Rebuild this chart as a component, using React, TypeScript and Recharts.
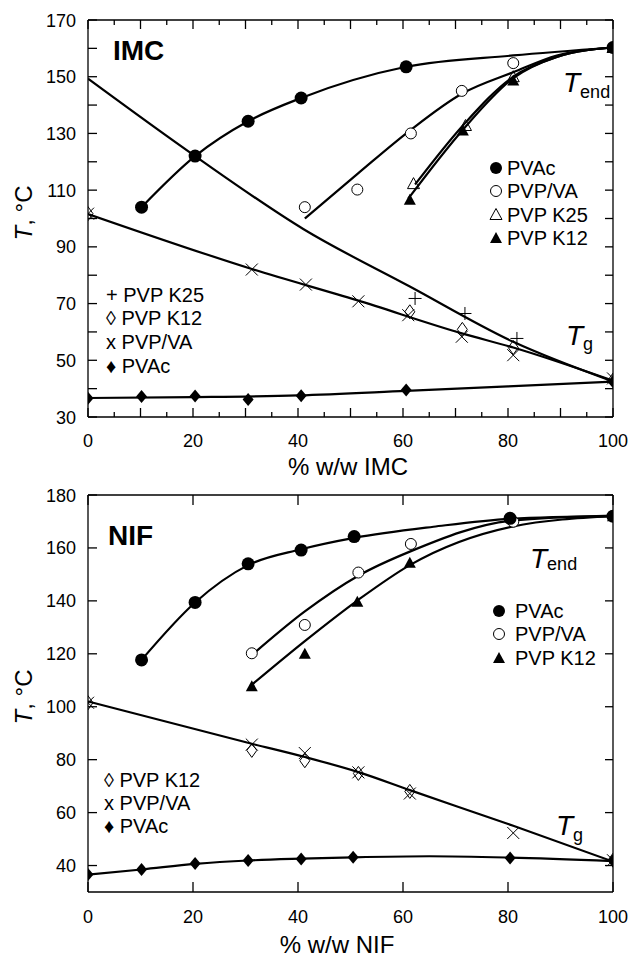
import {
  ComposedChart,
  Line,
  ReferenceLine,
  Scatter,
  XAxis,
  YAxis,
} from "recharts";

type P = { x: number; y: number };

const FONT = '"Liberation Sans", Arial, Helvetica, sans-serif';

// ---- IMC panel: symbols ----
const imcEndPvac: P[] = [
  { x: 10.2, y: 104 }, { x: 20.4, y: 122 }, { x: 30.5, y: 134.3 },
  { x: 40.6, y: 142.5 }, { x: 60.6, y: 153.5 }, { x: 100, y: 160.3 },
];
const imcEndPvpva: P[] = [
  { x: 41.3, y: 104 }, { x: 51.3, y: 110.2 }, { x: 61.5, y: 130 },
  { x: 71.2, y: 145 }, { x: 81, y: 154.8 }, { x: 100, y: 160.3 },
];
const imcEndK25: P[] = [
  { x: 62, y: 112.3 }, { x: 71.9, y: 132.8 }, { x: 81, y: 150 }, { x: 100, y: 160.3 },
];
const imcEndK12: P[] = [
  { x: 61.3, y: 106.6 }, { x: 71.4, y: 131 }, { x: 81, y: 148.7 }, { x: 100, y: 160.3 },
];
const imcTgK25: P[] = [
  { x: 62.3, y: 71.8 }, { x: 71.8, y: 66.5 }, { x: 81.7, y: 57.7 }, { x: 100, y: 43 },
];
const imcTgK12: P[] = [
  { x: 0, y: 101.7 }, { x: 61.3, y: 67.1 }, { x: 71.3, y: 60.9 }, { x: 81, y: 54.5 }, { x: 100, y: 43 },
];
const imcTgPvpva: P[] = [
  { x: 0, y: 101.7 }, { x: 31.2, y: 82 }, { x: 41.5, y: 76.7 }, { x: 51.5, y: 70.8 },
  { x: 61, y: 65.9 }, { x: 71.2, y: 58.3 }, { x: 81, y: 51.8 }, { x: 100, y: 43.6 },
];
const imcTgPvac: P[] = [
  { x: 0, y: 36.6 }, { x: 10.2, y: 37.2 }, { x: 20.4, y: 37.4 }, { x: 30.5, y: 36.2 },
  { x: 40.6, y: 37.5 }, { x: 60.6, y: 39.5 }, { x: 100, y: 42.4 },
];

// ---- IMC panel: fitted curves as drawn ----
const imcFitEndPvac: P[] = [
  { x: 10.2, y: 104 }, { x: 20.4, y: 122 }, { x: 30.5, y: 134.3 }, { x: 40.6, y: 142.5 },
  { x: 60.6, y: 153.5 }, { x: 81, y: 157.5 }, { x: 100, y: 160.3 },
];
const imcFitEndPvpva: P[] = [
  { x: 41.3, y: 100 }, { x: 51.5, y: 116 }, { x: 61.3, y: 131 }, { x: 71.2, y: 144 },
  { x: 81, y: 151.6 }, { x: 89.3, y: 157.5 }, { x: 100, y: 160.3 },
];
const imcFitEndK25: P[] = [
  { x: 62.3, y: 112 }, { x: 71.5, y: 133 }, { x: 81, y: 150 }, { x: 89.3, y: 157 }, { x: 100, y: 160.3 },
];
const imcFitEndK12: P[] = [
  { x: 61, y: 107 }, { x: 71.5, y: 131.5 }, { x: 81, y: 149.5 }, { x: 89.3, y: 157 }, { x: 100, y: 160.3 },
];
const imcFitTgK25: P[] = [
  { x: 0, y: 149.3 }, { x: 20.4, y: 122 }, { x: 41, y: 96.3 }, { x: 61.3, y: 76 },
  { x: 81, y: 56.5 }, { x: 100, y: 42.5 },
];
const imcFitTgPvpva: P[] = [
  { x: 0, y: 101.6 }, { x: 31.2, y: 82.2 }, { x: 51.2, y: 71.2 }, { x: 71.2, y: 59.5 },
  { x: 81, y: 54.5 }, { x: 100, y: 42.8 },
];
const imcFitTgPvac: P[] = [
  { x: 0, y: 36.7 }, { x: 20, y: 37 }, { x: 40, y: 37.6 }, { x: 60.6, y: 39.2 },
  { x: 80, y: 40.8 }, { x: 100, y: 42.5 },
];

// ---- NIF panel: symbols ----
const nifEndPvac: P[] = [
  { x: 10.2, y: 117.7 }, { x: 20.4, y: 139.4 }, { x: 30.5, y: 154 }, { x: 40.6, y: 159.2 },
  { x: 50.7, y: 164.3 }, { x: 80.4, y: 171.2 }, { x: 100, y: 172 },
];
const nifEndPvpva: P[] = [
  { x: 31.2, y: 120.2 }, { x: 41.3, y: 130.9 }, { x: 51.5, y: 150.7 }, { x: 61.5, y: 161.5 },
  { x: 81, y: 169.9 }, { x: 100, y: 172 },
];
const nifEndK12: P[] = [
  { x: 31.2, y: 107.7 }, { x: 41.3, y: 120 }, { x: 51.3, y: 139.7 }, { x: 61.3, y: 154.4 }, { x: 100, y: 172 },
];
const nifTgK12: P[] = [
  { x: 0, y: 101.5 }, { x: 31.2, y: 83.5 }, { x: 41.3, y: 79.6 }, { x: 51.5, y: 74.8 },
  { x: 61.3, y: 68 }, { x: 100, y: 42 },
];
const nifTgPvpva: P[] = [
  { x: 0, y: 101.5 }, { x: 31.2, y: 85.7 }, { x: 41.3, y: 82.5 }, { x: 51.5, y: 75.2 },
  { x: 61.3, y: 67.2 }, { x: 81, y: 52.3 }, { x: 100, y: 42 },
];
const nifTgPvac: P[] = [
  { x: 0, y: 36.6 }, { x: 10.2, y: 38.5 }, { x: 20.4, y: 40.8 }, { x: 30.5, y: 41.9 },
  { x: 40.6, y: 42.5 }, { x: 50.5, y: 43.1 }, { x: 80.4, y: 42.8 }, { x: 100, y: 41.9 },
];

// ---- NIF panel: fitted curves as drawn ----
const nifFitEndPvac: P[] = [
  { x: 10.2, y: 117.7 }, { x: 20.4, y: 139.4 }, { x: 30.5, y: 153.5 }, { x: 40.6, y: 159.5 },
  { x: 50.7, y: 163.8 }, { x: 65.8, y: 168 }, { x: 80.4, y: 171 }, { x: 100, y: 172 },
];
const nifFitEndPvpva: P[] = [
  { x: 31.2, y: 119.5 }, { x: 41.3, y: 136 }, { x: 51.5, y: 149.5 }, { x: 61.3, y: 158.6 },
  { x: 80.7, y: 170.3 }, { x: 100, y: 172.2 },
];
const nifFitEndK12: P[] = [
  { x: 31.2, y: 108.3 }, { x: 41.3, y: 124.8 }, { x: 51.5, y: 140.4 }, { x: 61.3, y: 153.5 },
  { x: 80.7, y: 168 }, { x: 100, y: 172 },
];
const nifFitTg: P[] = [
  { x: 0, y: 102 }, { x: 31.2, y: 86 }, { x: 41.3, y: 81 }, { x: 51.5, y: 75.3 },
  { x: 61.3, y: 68.5 }, { x: 81, y: 55 }, { x: 100, y: 41.5 },
];
const nifFitTgPvac: P[] = [
  { x: 0, y: 36.6 }, { x: 10.2, y: 38.5 }, { x: 20.4, y: 40.6 }, { x: 30.5, y: 41.9 },
  { x: 40.6, y: 42.6 }, { x: 50.5, y: 43.1 }, { x: 65, y: 43.5 }, { x: 80.4, y: 43 }, { x: 100, y: 41.7 },
];

// ticks
const imcXTicks = [0, 5, 10, 15, 20, 25, 30, 35, 40, 45, 50, 55, 60, 65, 70, 75, 80, 85, 90, 95, 100];
const imcYTicks = [30, 40, 50, 60, 70, 80, 90, 100, 110, 120, 130, 140, 150, 160, 170];
const nifXTicks = [0, 20, 40, 60, 80, 100];
const nifYTicks = [40, 60, 80, 100, 120, 140, 160, 180];

const PLOT_L = 88;
const PLOT_R = 613;

const mark = (kind: string) => (p: any) => {
  const { cx, cy } = p;
  if (cx == null || cy == null) return <g />;
  switch (kind) {
    case "dot":
      return <circle cx={cx} cy={cy} r={6.5} fill="#000" />;
    case "ring":
      return <circle cx={cx} cy={cy} r={5.5} fill="#fff" stroke="#000" strokeWidth={1} />;
    case "tri":
      return (
        <polygon
          points={`${cx},${cy - 6} ${cx + 6},${cy + 5} ${cx - 6},${cy + 5}`}
          fill="none"
          stroke="#000"
          strokeWidth={1}
        />
      );
    case "triFill":
      return <polygon points={`${cx},${cy - 6} ${cx + 6},${cy + 5} ${cx - 6},${cy + 5}`} fill="#000" />;
    case "plus":
      return (
        <path
          d={`M${cx - 6.5},${cy}H${cx + 6.5}M${cx},${cy - 6.5}V${cy + 6.5}`}
          stroke="#000"
          strokeWidth={1}
        />
      );
    case "cross":
      return (
        <path
          d={`M${cx - 6},${cy - 6}L${cx + 6},${cy + 6}M${cx + 6},${cy - 6}L${cx - 6},${cy + 6}`}
          stroke="#000"
          strokeWidth={1}
        />
      );
    case "lozenge":
      return (
        <polygon
          points={`${cx},${cy - 7} ${cx + 5},${cy} ${cx},${cy + 7} ${cx - 5},${cy}`}
          fill="none"
          stroke="#000"
          strokeWidth={1}
        />
      );
    default:
      return (
        <polygon
          points={`${cx},${cy - 6.5} ${cx + 5.5},${cy} ${cx},${cy + 6.5} ${cx - 5.5},${cy}`}
          fill="#000"
        />
      );
  }
};

const xTick =
  (top: number, bottom: number, labelY: number, showLabel: (v: number) => boolean, len: (v: number) => number) =>
  (p: any) => {
    const v = p.payload.value;
    const x = p.x;
    const l = len(v);
    return (
      <g>
        <line x1={x} x2={x} y1={bottom} y2={bottom - l} stroke="#000" strokeWidth={1.3} />
        <line x1={x} x2={x} y1={top} y2={top + l} stroke="#000" strokeWidth={1.3} />
        {showLabel(v) && (
          <text x={x} y={labelY} textAnchor="middle" fontSize={18} fontFamily={FONT} fill="#000">
            {v}
          </text>
        )}
      </g>
    );
  };

const yTick = (showLabel: (v: number) => boolean) => (p: any) => {
  const v = p.payload.value;
  const y = p.y;
  return (
    <g>
      <line x1={PLOT_L} x2={PLOT_L + 9} y1={y} y2={y} stroke="#000" strokeWidth={1.3} />
      <line x1={PLOT_R - 8} x2={PLOT_R} y1={y} y2={y} stroke="#000" strokeWidth={1.3} />
      {showLabel(v) && (
        <text x={76} y={y + 6.5} textAnchor="end" fontSize={18} fontFamily={FONT} fill="#000">
          {v}
        </text>
      )}
    </g>
  );
};

const curve = (data: P[], key: string) => (
  <Line
    key={key}
    data={data}
    dataKey="y"
    type="monotone"
    stroke="#000"
    strokeWidth={2.2}
    dot={false}
    activeDot={false}
    isAnimationActive={false}
  />
);

const dots = (data: P[], kind: string, key: string) => (
  <Scatter key={key} data={data} dataKey="y" shape={mark(kind)} isAnimationActive={false} />
);

const ImcChart = () => (
  <ComposedChart width={632} height={480} margin={{ top: 20, right: 19, bottom: 33, left: 28 }}>
    <XAxis
      type="number"
      dataKey="x"
      domain={[0, 100]}
      ticks={imcXTicks}
      interval={0}
      height={30}
      allowDataOverflow
      tickLine={false}
      axisLine={{ stroke: "#000", strokeWidth: 1.3 }}
      tick={xTick(20, 417, 447, (v) => v % 20 === 0, (v) => (v % 10 === 0 ? 9 : 5))}
    />
    <YAxis
      type="number"
      dataKey="y"
      domain={[30, 170]}
      ticks={imcYTicks}
      interval={0}
      width={60}
      allowDataOverflow
      tickLine={false}
      axisLine={{ stroke: "#000", strokeWidth: 1.3 }}
      tick={yTick((v) => (v - 30) % 20 === 0)}
    />
    <ReferenceLine y={170} stroke="#000" strokeWidth={1.3} />
    <ReferenceLine x={100} stroke="#000" strokeWidth={1.3} />
    {curve(imcFitTgPvac, "c1")}
    {curve(imcFitTgPvpva, "c2")}
    {curve(imcFitTgK25, "c3")}
    {curve(imcFitEndPvac, "c4")}
    {curve(imcFitEndPvpva, "c5")}
    {curve(imcFitEndK25, "c6")}
    {curve(imcFitEndK12, "c7")}
    {dots(imcTgK25, "plus", "s1")}
    {dots(imcTgK12, "lozenge", "s2")}
    {dots(imcTgPvpva, "cross", "s3")}
    {dots(imcTgPvac, "diamond", "s4")}
    {dots(imcEndPvpva, "ring", "s5")}
    {dots(imcEndK25, "tri", "s6")}
    {dots(imcEndK12, "triFill", "s7")}
    {dots(imcEndPvac, "dot", "s8")}
  </ComposedChart>
);

const NifChart = () => (
  <ComposedChart width={632} height={478} margin={{ top: 15, right: 19, bottom: 36, left: 28 }}>
    <XAxis
      type="number"
      dataKey="x"
      domain={[0, 100]}
      ticks={nifXTicks}
      interval={0}
      height={30}
      allowDataOverflow
      tickLine={false}
      axisLine={{ stroke: "#000", strokeWidth: 1.3 }}
      tick={xTick(15, 412, 442.7, () => true, () => 10)}
    />
    <YAxis
      type="number"
      dataKey="y"
      domain={[30, 180]}
      ticks={nifYTicks}
      interval={0}
      width={60}
      allowDataOverflow
      tickLine={false}
      axisLine={{ stroke: "#000", strokeWidth: 1.3 }}
      tick={yTick(() => true)}
    />
    <ReferenceLine y={180} stroke="#000" strokeWidth={1.3} />
    <ReferenceLine x={100} stroke="#000" strokeWidth={1.3} />
    {curve(nifFitTgPvac, "c1")}
    {curve(nifFitTg, "c2")}
    {curve(nifFitEndPvac, "c3")}
    {curve(nifFitEndPvpva, "c4")}
    {curve(nifFitEndK12, "c5")}
    {dots(nifTgK12, "lozenge", "s1")}
    {dots(nifTgPvpva, "cross", "s2")}
    {dots(nifTgPvac, "diamond", "s3")}
    {dots(nifEndPvpva, "ring", "s4")}
    {dots(nifEndK12, "triFill", "s5")}
    {dots(nifEndPvac, "dot", "s6")}
  </ComposedChart>
);

const legendSym = (kind: string, cx: number, cy: number, key: string) => (
  <g key={key}>
    {kind === "dot" && <circle cx={cx} cy={cy} r={6} fill="#000" />}
    {kind === "ring" && <circle cx={cx} cy={cy} r={5.5} fill="#fff" stroke="#000" />}
    {kind === "tri" && (
      <polygon points={`${cx},${cy - 6} ${cx + 6},${cy + 5} ${cx - 6},${cy + 5}`} fill="none" stroke="#000" />
    )}
    {kind === "triFill" && (
      <polygon points={`${cx},${cy - 6} ${cx + 6},${cy + 5} ${cx - 6},${cy + 5}`} fill="#000" />
    )}
  </g>
);

// italic T with a plain subscript, kept in one text element
const TSub = ({ x, y, sub, dy }: { x: number; y: number; sub: string; dy: number }) => (
  <text x={x} y={y} fontFamily={FONT} fill="#000">
    <tspan fontSize={28} fontStyle="italic">T</tspan>
    <tspan fontSize={18} dx={0} dy={dy}>{sub}</tspan>
  </text>
);

const Labels = () => {
  const t = { fontFamily: FONT, fill: "#000" };
  const rightTop = [
    ["dot", "PVAc", 175],
    ["ring", "PVP/VA", 198],
    ["tri", "PVP K25", 221.5],
    ["triFill", "PVP K12", 245],
  ] as const;
  const rightBottom = [
    ["dot", "PVAc", 618],
    ["ring", "PVP/VA", 641],
    ["triFill", "PVP K12", 665],
  ] as const;
  const leftTop = [
    ["+ PVP K25", 301.7],
    ["\u25CA PVP K12", 325],
    ["x PVP/VA", 349.3],
    ["\u2666 PVAc", 373],
  ] as const;
  const leftBottom = [
    ["\u25CA PVP K12", 787],
    ["x PVP/VA", 810],
    ["\u2666 PVAc", 833],
  ] as const;
  return (
    <svg
      width={632}
      height={958}
      style={{ position: "absolute", left: 0, top: 0, pointerEvents: "none" }}
    >
      {/* IMC */}
      <text x={113} y={60} fontSize={28} fontWeight="bold" {...t}>IMC</text>
      <TSub x={563} y={92} sub="end" dy={6} />
      <TSub x={566} y={345} sub="g" dy={5} />
      <text transform="translate(32,213) rotate(-90)" textAnchor="middle" fontSize={24} {...t}>
        <tspan fontStyle="italic">T</tspan>, °C
      </text>
      <text x={348} y={475} textAnchor="middle" fontSize={24} {...t}>% w/w IMC</text>
      {rightTop.map(([k, s, b], i) => (
        <g key={"rt" + i}>
          {legendSym(k, 496, b - 7, "rs" + i)}
          <text x={507} y={b} fontSize={20} {...t}>{s}</text>
        </g>
      ))}
      {leftTop.map(([s, b], i) => (
        <text key={"lt" + i} x={106} y={b} fontSize={20} {...t}>{s}</text>
      ))}

      {/* NIF */}
      <text x={108} y={545} fontSize={28} fontWeight="bold" {...t}>NIF</text>
      <TSub x={530} y={568} sub="end" dy={2} />
      <TSub x={556} y={835} sub="g" dy={6} />
      <text transform="translate(32,697) rotate(-90)" textAnchor="middle" fontSize={24} {...t}>
        <tspan fontStyle="italic">T</tspan>, °C
      </text>
      <text x={337} y={953} textAnchor="middle" fontSize={24} {...t}>% w/w NIF</text>
      {rightBottom.map(([k, s, b], i) => (
        <g key={"rb" + i}>
          {legendSym(k, 499, b - 7, "rbs" + i)}
          <text x={515} y={b} fontSize={20} {...t}>{s}</text>
        </g>
      ))}
      {leftBottom.map(([s, b], i) => (
        <text key={"lb" + i} x={104} y={b} fontSize={20} {...t}>{s}</text>
      ))}
    </svg>
  );
};

export default function App() {
  return (
    <div
      style={{
        position: "absolute",
        left: 0,
        top: 0,
        width: 632,
        height: 958,
        background: "#fff",
        fontFamily: FONT,
      }}
    >
      <div style={{ position: "absolute", left: 0, top: 0 }}>
        <ImcChart />
      </div>
      <div style={{ position: "absolute", left: 0, top: 480 }}>
        <NifChart />
      </div>
      <Labels />
    </div>
  );
}
